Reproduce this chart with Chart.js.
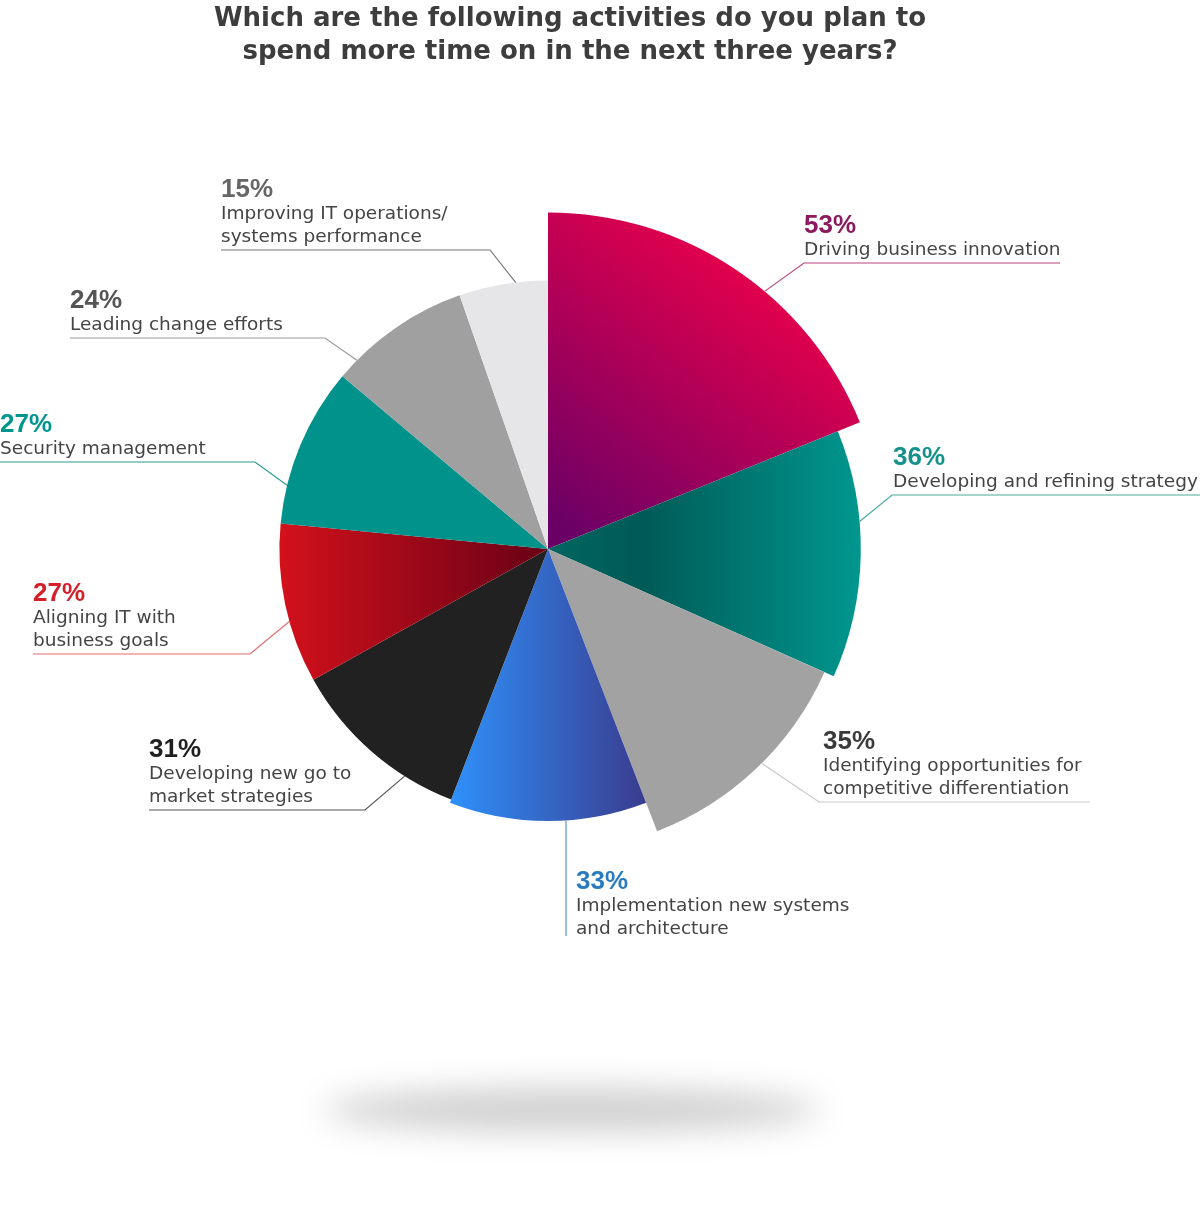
<!DOCTYPE html>
<html>
<head>
<meta charset="utf-8">
<script src="https://cdn.jsdelivr.net/npm/chart.js@4/dist/chart.umd.min.js"></script>
<style>
  html, body { margin: 0; padding: 0; background: #fff; }
  #wrap { width: 1200px; height: 1211px; position: relative; }
</style>
</head>
<body>
<div id="wrap"><canvas id="pieChart"></canvas></div>
<script>
'use strict';

// survey data, clockwise from 12 o'clock
let categories = [
    ['Driving business innovation'],
    ['Developing and refining strategy'],
    ['Identifying opportunities for', 'competitive differentiation'],
    ['Implementation new systems', 'and architecture'],
    ['Developing new go to', 'market strategies'],
    ['Aligning IT with', 'business goals'],
    ['Security management'],
    ['Leading change efforts'],
    ['Improving IT operations/', 'systems performance']
]
let shares = [53, 36, 35, 33, 31, 27, 27, 24, 15]
// how far each wedge reaches out on the radial scale (0-100)
let reach = [99, 92, 89, 80, 79, 79, 79, 79, 79]

let total = shares.reduce((a, b) => a + b, 0)

// fills: solid colour or gradient (points in units of radius from centre)
let fills = [
    {from: [0.12, 0.0], to: [0.7, -0.78], stops: [[0, '#6a0066'], [1, '#e8004b']]},
    {from: [0.0, 0.0], to: [0.92, 0.0], stops: [[0, '#006660'], [0.3, '#005a56'], [1, '#00978f']]},
    '#a2a2a2',
    {from: [-0.28, 0.0], to: [0.3, 0.0], stops: [[0, '#2f90fa'], [1, '#3a3a8c']]},
    '#212121',
    {from: [-0.8, 0.0], to: [0.0, 0.0], stops: [[0, '#d4111b'], [1, '#680016']]},
    '#00928b',
    '#a0a0a0',
    '#e6e6e9'
]

let pctColors = ['#8c1a5e', '#12928b', '#3a3a3a', '#2a7cc0', '#1f1f1f', '#d4202a', '#00968e', '#555555', '#666666']
let lineColors = ['#b8457f', '#4aa8a2', '#c8c8c8', '#5a8fc8', '#555555', '#e46c6c', '#2a9a94', '#999999', '#777777']

// label placement: text x, baseline of the percentage, underline span, where the leader meets the arc
let labelLayout = [
    {x: 804, y: 233, u: [804, 1060], elbow: 'left',  f: 0.59},
    {x: 893, y: 465, u: [892, 1200], elbow: 'left',  f: 0.37},
    {x: 823, y: 749, u: [819, 1090], elbow: 'left',  f: 0.47},
    {x: 576, y: 889, u: null,        elbow: 'down',  f: 0.41, down: 936},
    {x: 149, y: 757, u: [149, 365],  elbow: 'right', f: 0.28},
    {x: 33,  y: 601, u: [33, 250],   elbow: 'right', f: 0.39},
    {x: 0,   y: 432, u: [0, 255],    elbow: 'right', f: 0.24},
    {x: 70,  y: 308, u: [70, 325],   elbow: 'right', f: 0.15},
    {x: 221, y: 197, u: [221, 490],  elbow: 'right', f: 0.64}
]

let titleLines = [
    'Which are the following activities do you plan to',
    'spend more time on in the next three years?'
]

function sliceFill(c) {
    let spec = fills[c.dataIndex]
    if (typeof spec === 'string') return spec
    let chart = c.chart
    let sc = chart.scales.r
    if (!chart.chartArea || !sc || !sc.drawingArea) return spec.stops[0][1]
    let R = sc.drawingArea, cx = sc.xCenter, cy = sc.yCenter
    let g = chart.ctx.createLinearGradient(cx + spec.from[0] * R, cy + spec.from[1] * R,
                                           cx + spec.to[0] * R, cy + spec.to[1] * R)
    spec.stops.forEach(s => g.addColorStop(s[0], s[1]))
    return g
}

let decor = {
    id: 'decor',
    beforeDraw: function (chart) {
        let ctx = chart.ctx
        ctx.save()
        ctx.fillStyle = '#ffffff'
        ctx.fillRect(0, 0, chart.width, chart.height)
        // soft floor shadow
        ctx.filter = 'blur(16px)'
        ctx.fillStyle = 'rgba(0,0,0,0.19)'
        ctx.beginPath()
        ctx.ellipse(572, 1110, 248, 22, 0, 0, Math.PI * 2)
        ctx.fill()
        ctx.restore()
    },
    afterDraw: function (chart) {
        let ctx = chart.ctx
        let meta = chart.getDatasetMeta(0)
        ctx.save()

        ctx.fillStyle = '#3d3d3d'
        ctx.textAlign = 'center'
        ctx.textBaseline = 'alphabetic'
        ctx.font = 'bold 26px "DejaVu Sans"'
        ctx.fillText(titleLines[0], 570, 26)
        ctx.fillText(titleLines[1], 570, 59)

        ctx.textAlign = 'left'
        for (let i = 0; i < shares.length; i++) {
            let L = labelLayout[i]
            let arc = meta.data[i]
            let a = arc.startAngle + L.f * (arc.endAngle - arc.startAngle)
            let px = arc.x + arc.outerRadius * Math.cos(a)
            let py = arc.y + arc.outerRadius * Math.sin(a)

            ctx.fillStyle = pctColors[i]
            ctx.font = 'bold 26px "Liberation Sans"'
            ctx.fillText(shares[i] + '%', L.x, L.y)

            ctx.fillStyle = '#444444'
            ctx.font = '18.5px "DejaVu Sans"'
            let yy = L.y
            categories[i].forEach((t, k) => {
                yy = L.y + 22 + k * 23
                ctx.fillText(t, L.x, yy)
            })

            ctx.strokeStyle = lineColors[i]
            ctx.lineWidth = 1.2
            ctx.beginPath()
            if (L.elbow === 'down') {
                ctx.moveTo(px, py)
                ctx.lineTo(px, L.down)
            } else {
                let uy = yy + 8
                let ex = L.elbow === 'left' ? L.u[0] : L.u[1]
                let sx = L.elbow === 'left' ? L.u[1] : L.u[0]
                ctx.moveTo(sx, uy)
                ctx.lineTo(ex, uy)
                ctx.lineTo(px, py)
            }
            ctx.stroke()
        }
        ctx.restore()
    }
}

let chartData = {
    labels: categories,
    datasets: [{
        data: reach,
        angle: c => shares[c.dataIndex] / total * 360,
        backgroundColor: sliceFill,
        borderWidth: 0
    }]
}

let options = {
    responsive: true,
    maintainAspectRatio: false,
    animation: false,
    events: [],
    layout: { padding: { left: 208, right: 312, top: 209, bottom: 322 } },
    scales: {
        r: {
            min: 0,
            max: 100,
            startAngle: 0,
            ticks: { display: false },
            grid: { display: false },
            angleLines: { display: false },
            pointLabels: { display: false }
        }
    },
    plugins: {
        legend: { display: false },
        tooltip: { enabled: false }
    }
}

new Chart(document.getElementById('pieChart').getContext('2d'), {
    type: 'polarArea',
    data: chartData,
    options: options,
    plugins: [decor]
})
</script>
</body>
</html>
